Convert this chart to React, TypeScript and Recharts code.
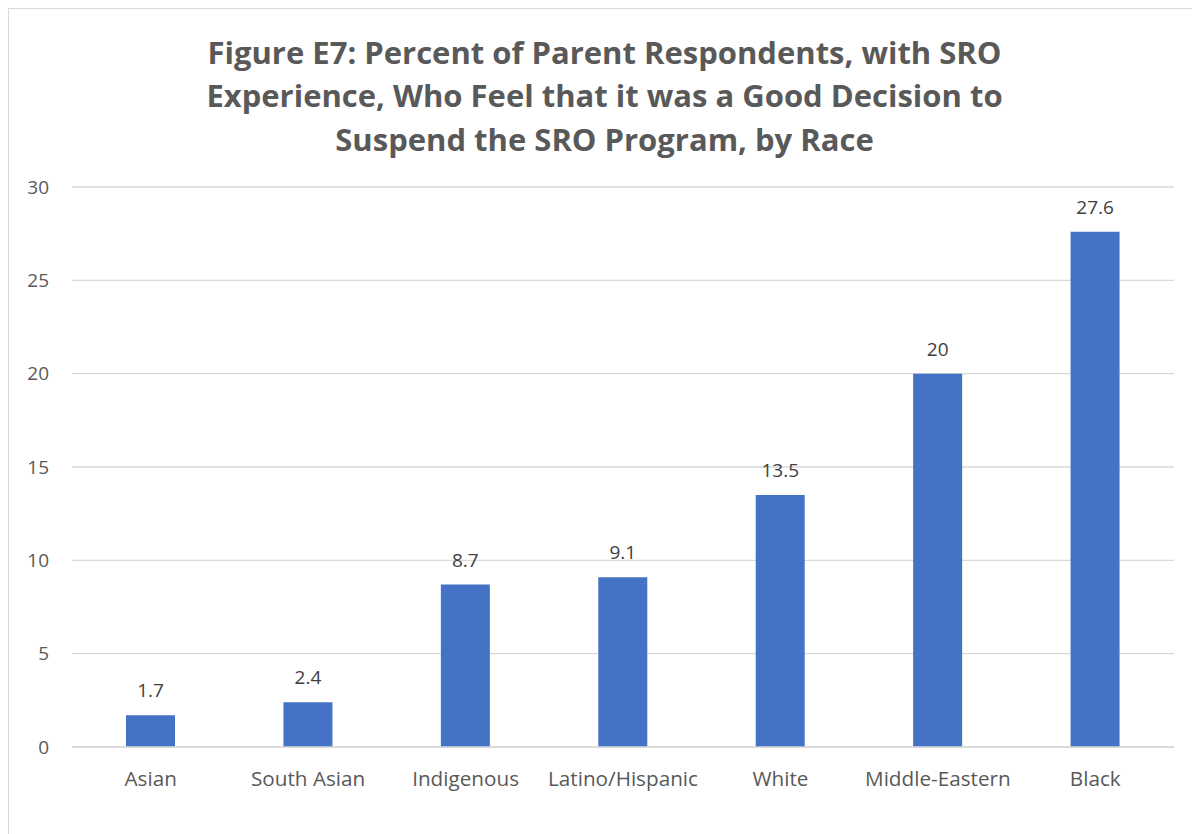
import React from "react";
import { BarChart, Bar, XAxis, YAxis, CartesianGrid, LabelList } from "recharts";

const categories = ["Asian", "South Asian", "Indigenous", "Latino/Hispanic", "White", "Middle-Eastern", "Black"];
const percentValues = [1.7, 2.4, 8.7, 9.1, 13.5, 20, 27.6];
const yTicks = [0, 5, 10, 15, 20, 25, 30];
const titleLines = [
  "Figure E7: Percent of Parent Respondents, with SRO",
  "Experience, Who Feel that it was a Good Decision to",
  "Suspend the SRO Program, by Race",
];

const data = categories.map((c, i) => ({ name: c, value: percentValues[i] }));

const FONT = "'Open Sans', Lato, sans-serif";

export default function App() {
  return (
    <div
      style={{
        position: "relative",
        width: 1191,
        height: 825,
        borderTop: "1px solid #d9d9d9",
        borderLeft: "1px solid #d9d9d9",
        background: "#fff",
        fontFamily: FONT,
      }}
    >
      <div
        style={{
          position: "absolute",
          left: 0,
          top: 22,
          width: 1191,
          textAlign: "center",
          fontWeight: 700,
          fontSize: 31,
          lineHeight: "43.3px",
          color: "#595959",
        }}
      >
        {titleLines.map((l, i) => (
          <div key={i}>{l}</div>
        ))}
      </div>
      <div style={{ position: "absolute", left: 0, top: 0 }}>
        <BarChart
          width={1191}
          height={825}
          data={data}
          margin={{ top: 178, right: 26, left: 13, bottom: 47 }}
          barSize={49}
        >
          <CartesianGrid vertical={false} stroke="#d9d9d9" strokeWidth={1.3} />
          <XAxis
            dataKey="name"
            axisLine={{ stroke: "#d9d9d9", strokeWidth: 1.5 }}
            tickLine={false}
            tickSize={6}
            tickMargin={18}
            height={40}
            interval={0}
            tick={{ fill: "#595959", fontSize: 20.7, fontFamily: FONT }}
          />
          <YAxis
            domain={[0, 30]}
            ticks={yTicks}
            width={50}
            axisLine={false}
            tickLine={false}
            tickSize={6}
            tickMargin={17}
            tick={{ fill: "#595959", fontSize: 19, fontFamily: FONT }}
          />
          <Bar dataKey="value" fill="#4472c4" isAnimationActive={false}>
            <LabelList
              dataKey="value"
              position="top"
              offset={18}
              fill="#404040"
              fontSize={19}
              fontFamily={FONT}
            />
          </Bar>
        </BarChart>
      </div>
    </div>
  );
}
